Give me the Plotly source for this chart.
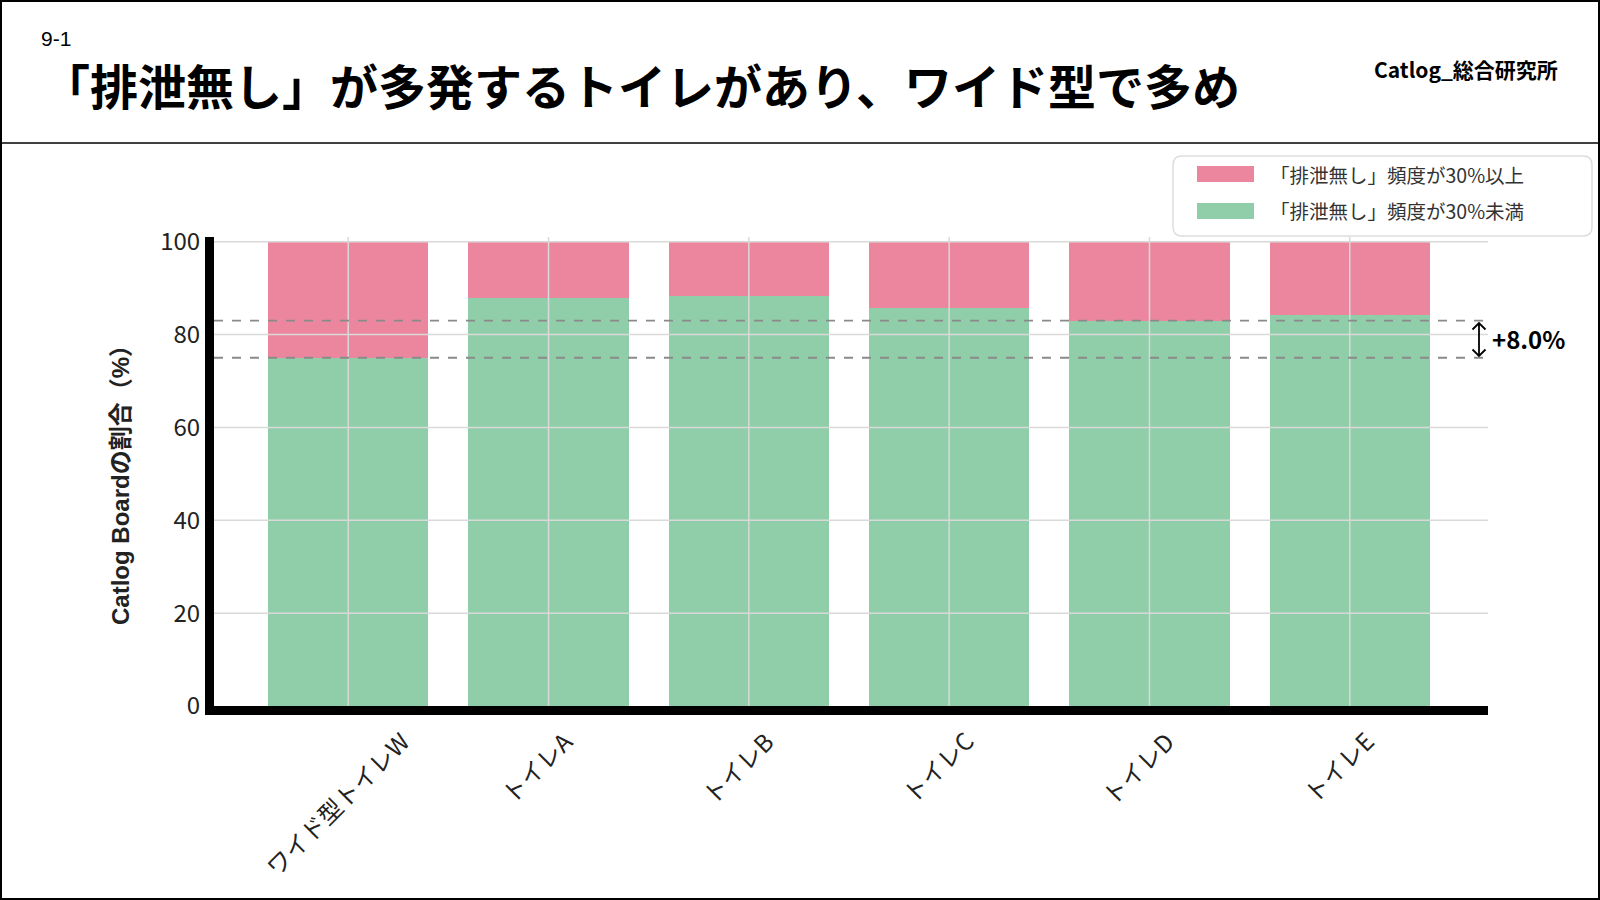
"""
Catlog Board: share of boards by toilet, split by 'no excretion' frequency.
"""
import plotly.graph_objects as go

W, H = 1600, 900
# plot area in pixels
PL, PR, PT, PB = 214, 1488, 237, 706

toilets = ['ワイド型トイレW', 'トイレA', 'トイレB', 'トイレC', 'トイレD', 'トイレE']
under_30 = [75.0, 87.8, 88.2, 85.8, 83.0, 84.1]   # 「排泄無し」頻度が30%未満
over_30 = [25.0, 12.2, 11.8, 14.2, 17.0, 15.9]    # 「排泄無し」頻度が30%以上
y_ticks = [0, 20, 40, 60, 80, 100]

name_over = '「排泄無し」頻度が30%以上'
name_under = '「排泄無し」頻度が30%未満'
PINK = '#EC869E'
GREEN = '#8FCEA9'
FONT = 'Noto Sans CJK JP'
SANS = 'Liberation Sans, Noto Sans CJK JP'


def px(x):
    "pixel x -> paper x"
    return (x - PL) / (PR - PL)


def py(y):
    "pixel y -> paper y"
    return (PB - y) / (PB - PT)


fig = go.Figure()
fig.add_trace(go.Bar(x=toilets, y=under_30, name=name_under, marker_color=GREEN,
                     marker_line_width=0, showlegend=False))
fig.add_trace(go.Bar(x=toilets, y=over_30, name=name_over, marker_color=PINK,
                     marker_line_width=0, showlegend=False))

shapes = []
# grid drawn over the bars
for v in y_ticks[1:]:
    shapes.append(dict(type='line', xref='paper', yref='y', x0=0, x1=1, y0=v, y1=v,
                       line=dict(color='#d9d9d9', width=1.5), layer='above'))
for i in range(len(toilets)):
    shapes.append(dict(type='line', xref='x', yref='paper', x0=i, x1=i, y0=0, y1=1,
                       line=dict(color='#d9d9d9', width=1.5), layer='above'))

# reference lines: wide toilet vs toilet D
ref_low = under_30[0]
ref_high = under_30[4]
for v in (ref_low, ref_high):
    shapes.append(dict(type='line', xref='paper', yref='y', x0=0, x1=1, y0=v, y1=v,
                       line=dict(color='#8a8a8a', width=1.8, dash='dash'), layer='above'))

# double headed arrow between the two reference lines
ax_x, a_top, a_bot, hw, hh = 1479, 323, 356, 6.5, 6.5
arrow = (f'M {px(ax_x)},{py(a_top)} L {px(ax_x)},{py(a_bot)} '
         f'M {px(ax_x - hw)},{py(a_top + hh)} L {px(ax_x)},{py(a_top)} L {px(ax_x + hw)},{py(a_top + hh)} '
         f'M {px(ax_x - hw)},{py(a_bot - hh)} L {px(ax_x)},{py(a_bot)} L {px(ax_x + hw)},{py(a_bot - hh)}')
shapes.append(dict(type='path', xref='paper', yref='paper', path=arrow,
                   line=dict(color='black', width=1.8)))

# header separator and page frame
shapes.append(dict(type='line', xref='paper', yref='paper', x0=px(0), x1=px(W),
                   y0=py(143), y1=py(143), line=dict(color='black', width=1.5)))
shapes.append(dict(type='rect', xref='paper', yref='paper', x0=px(1), x1=px(W - 1),
                   y0=py(1), y1=py(H - 1), line=dict(color='black', width=2)))

# hand drawn legend with rounded box
lx0, lx1, ly0, ly1, r = 1173, 1592, 156, 236, 9
path = (f'M {px(lx0 + r)},{py(ly0)} L {px(lx1 - r)},{py(ly0)} '
        f'Q {px(lx1)},{py(ly0)} {px(lx1)},{py(ly0 + r)} L {px(lx1)},{py(ly1 - r)} '
        f'Q {px(lx1)},{py(ly1)} {px(lx1 - r)},{py(ly1)} L {px(lx0 + r)},{py(ly1)} '
        f'Q {px(lx0)},{py(ly1)} {px(lx0)},{py(ly1 - r)} L {px(lx0)},{py(ly0 + r)} '
        f'Q {px(lx0)},{py(ly0)} {px(lx0 + r)},{py(ly0)} Z')
shapes.append(dict(type='path', xref='paper', yref='paper', path=path,
                   line=dict(color='#dddddd', width=1.5), fillcolor='white'))
legend_rows = [(name_over, PINK, 174), (name_under, GREEN, 211)]
annotations = []
for label, color, yc in legend_rows:
    shapes.append(dict(type='rect', xref='paper', yref='paper', x0=px(1197), x1=px(1254),
                       y0=py(yc - 8), y1=py(yc + 8), line_width=0, fillcolor=color))
    annotations.append(dict(text=label, xref='paper', yref='paper', x=px(1268), y=py(yc),
                            xanchor='left', yanchor='middle', showarrow=False,
                            font=dict(size=19.5, color='#333333', family=FONT)))

# category labels, rotated, hung under each bar
for name in toilets:
    annotations.append(dict(text=name, xref='x', yref='paper', x=name, y=py(721),
                            xanchor='center', yanchor='top', xshift=-12, textangle=-45,
                            showarrow=False, font=dict(size=24, color='#222222', family=FONT)))

annotations.append(dict(xref='paper', yref='y', x=px(1490), y=(ref_low + ref_high) / 2 + 0.1,
                        text=f'<b>+{ref_high - ref_low:.1f}%</b>', showarrow=False,
                        xanchor='left', yanchor='middle',
                        font=dict(size=24, color='black', family=FONT)))

# page header
annotations.append(dict(text='9-1', xref='paper', yref='paper', x=px(39), y=py(38),
                        xanchor='left', yanchor='middle', showarrow=False,
                        font=dict(size=21, color='black', family=SANS)))
annotations.append(dict(text='<b>「排泄無し」が多発するトイレがあり、ワイド型で多め</b>',
                        xref='paper', yref='paper', x=px(40), y=py(84),
                        xanchor='left', yanchor='middle', showarrow=False,
                        font=dict(size=48, color='black', family=FONT)))
annotations.append(dict(text='<b>Catlog_総合研究所</b>', xref='paper', yref='paper',
                        x=px(1560), y=py(69), xanchor='right', yanchor='middle',
                        showarrow=False, font=dict(size=21, color='black', family=FONT)))
# y axis title
annotations.append(dict(text='<b>Catlog Boardの割合（%）</b>', xref='paper', yref='paper',
                        x=px(120), y=py(479), textangle=-90, showarrow=False,
                        xanchor='center', yanchor='middle',
                        font=dict(size=24, color='#222222', family=SANS)))

fig.update_layout(
    width=W, height=H,
    margin=dict(l=PL, r=W - PR, t=PT, b=H - PB, autoexpand=False),
    paper_bgcolor='white', plot_bgcolor='white',
    barmode='stack', bargap=0.2,
    font=dict(family=FONT, color='#222222'),
    shapes=shapes, annotations=annotations,
    xaxis=dict(range=[-0.67, 5.69], showgrid=False, showticklabels=False,
               showline=True, linecolor='black', linewidth=9, ticks=''),
    yaxis=dict(range=[0, 101], tickvals=y_ticks, showgrid=False, zeroline=False,
               tickfont=dict(size=24, color='#222222'),
               showline=True, linecolor='black', linewidth=9, ticks=''),
)

# page body margin would push the figure off the 1600x900 window
fig.write_html('out.html', config={'displayModeBar': False},
               post_script="document.body.style.margin='0';")
